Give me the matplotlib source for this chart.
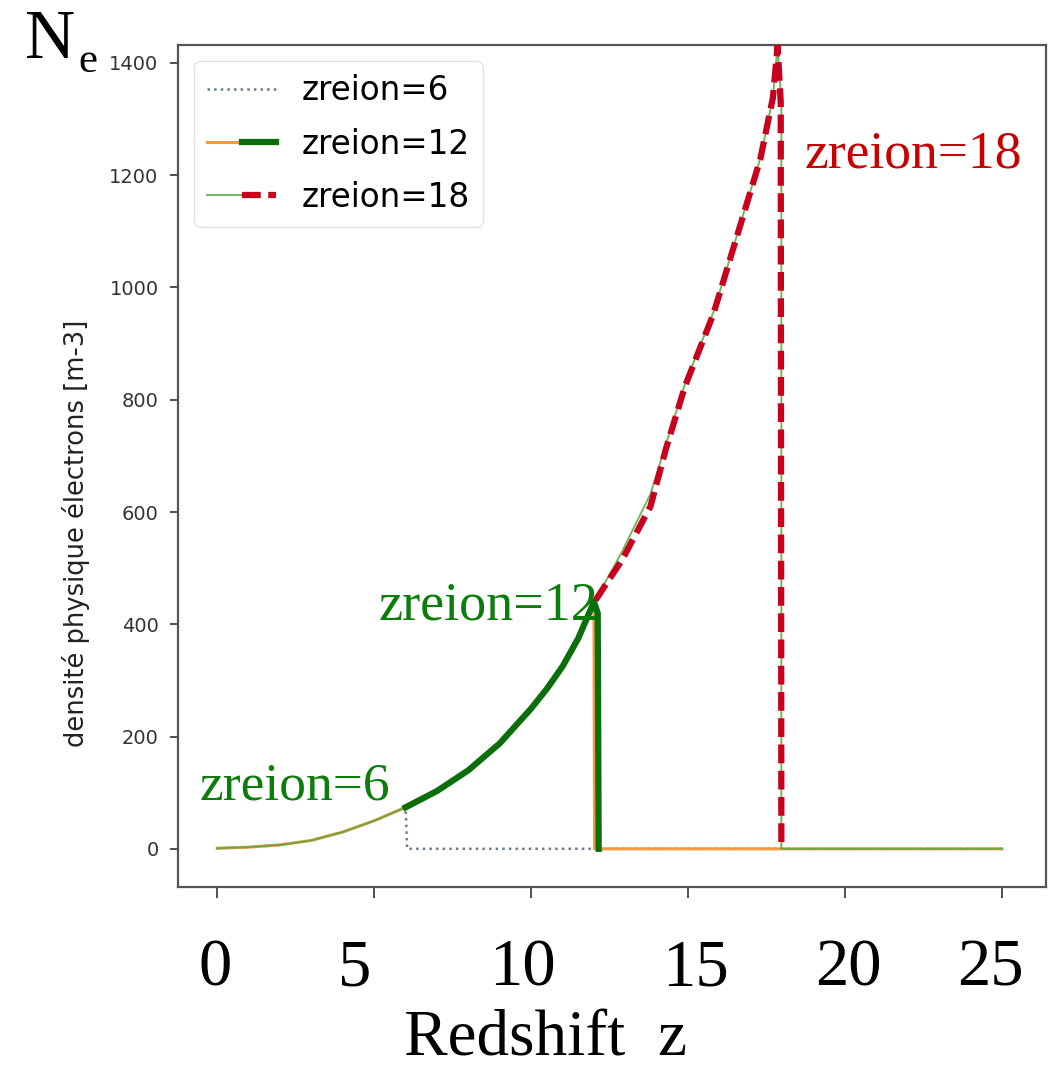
import matplotlib.pyplot as plt
from matplotlib.legend_handler import HandlerTuple

# electron density curve (shared low-z part)
z_low = [0, 1, 2, 3, 4, 5, 6, 7, 8, 9, 10, 10.5, 11, 11.5, 12]
ne_low = [1, 3, 7, 15, 30, 50, 74, 103, 140, 188, 250, 285, 325, 375, 440]

# high-z part (zreion=18 thick dashed)
z_high = [12.05, 12.9, 13.8, 14.3, 14.9, 15.8, 16.5, 17.3, 17.7, 17.85]
ne_high = [443, 515, 610, 714, 824, 952, 1081, 1229, 1338, 1430]
# thin companion line sits a little above between 12 and 14
ne_high_thin = [443, 530, 632, 722, 828, 955, 1083, 1230, 1338, 1430]

z_end = 25
xticks = [0, 5, 10, 15, 20, 25]
yticks = [0, 200, 400, 600, 800, 1000, 1200, 1400]
labels = ['zreion=6', 'zreion=12', 'zreion=18']

W, H = 1064, 1072
fig = plt.figure(figsize=(W / 100, H / 100), dpi=100)
ax = fig.add_axes([178 / W, 1 - 887 / H, (1046 - 178) / W, (887 - 45) / H])

# zreion=6 : dotted, drops at 6
z6 = z_low[:7] + [6.05, z_end]
n6 = ne_low[:7] + [0, 0]
# zreion=12 : thin orange + thick green between 6 and 12
z12 = z_low + [12.02, z_end]
n12 = ne_low + [0, 0]
z12b = z_low[6:] + [12.12, 12.15]
n12b = ne_low[6:] + [420, 0]
# zreion=18 : thin green + thick red dashed between 12 and 18
z18 = z_low[:-1] + z_high + [17.97, 17.97, z_end]
n18 = ne_low[:-1] + ne_high_thin + [1330, 0, 0]
z18b = z_high + [17.95, 17.97]
n18b = ne_high + [1330, 0]

l6, = ax.plot(z6, n6, ':', color='#6a7b8c', lw=1.8, zorder=2)
l12t, = ax.plot(z12, n12, '-', color='#f49a3c', lw=2.2, zorder=3)
l18t, = ax.plot(z18, n18, '-', color='#5aa845', lw=1.4, alpha=0.85, zorder=4)
l12, = ax.plot(z12b, n12b, '-', color='#0a6e0a', lw=4.5, zorder=5)
l18, = ax.plot(z18b, n18b, '--', color='#c8001e', lw=4.5, dashes=(3, 1.2), zorder=6)

ax.set_xlim(-1.25, 26.4)
ax.set_ylim(-68, 1432)
ax.set_xticks(xticks)
ax.set_xticklabels([])
ax.set_yticks(yticks)
ax.tick_params(axis='y', labelsize=14, length=6, width=1.2, colors='#333333', pad=8)
ax.tick_params(axis='x', length=8, width=1.2, colors='#333333')
for s in ax.spines.values():
    s.set_color('#555555')
    s.set_linewidth(1.6)

ax.set_ylabel('densité physique électrons [m-3]', fontsize=18.5, color='#222222')
ax.yaxis.set_label_coords(-0.101, 0.42)

leg = ax.legend([l6, (l12t, l12), (l18t, l18)], labels,
                handler_map={tuple: HandlerTuple(ndivide=None, pad=0)},
                loc='upper left', fontsize=23.5, handlelength=2.1,
                borderaxespad=0.5, labelspacing=0.62, handletextpad=0.8)
leg.get_frame().set_edgecolor('#dddddd')

serif = 'Liberation Serif'
# big overlaid labels
fig.text(25 / W, 1 - 58 / H, 'N', fontsize=50, family=serif, va='baseline')
fig.text(78 / W, 1 - 72 / H, 'e', fontsize=31, family=serif, va='baseline')
fig.text(805 / W, 1 - 168 / H, 'zreion=18', fontsize=38.5, family=serif,
         color='#c80000', va='baseline')
fig.text(378 / W, 1 - 620 / H, 'zreion=12', fontsize=39, family=serif,
         color='#0a7d0a', va='baseline')
fig.text(200 / W, 1 - 800 / H, 'zreion=6', fontsize=38.5, family=serif,
         color='#0a7d0a', va='baseline')

big_x = [215, 355, 522, 695, 848, 990]
for xv, t in zip(big_x, xticks):
    fig.text(xv / W, 1 - 985 / H, str(t), fontsize=48, family=serif,
             ha='center', va='baseline')
fig.text(545 / W, 1 - 1056 / H, 'Redshift  z', fontsize=47, family=serif,
         ha='center', va='baseline')

fig.savefig('out.png', dpi=100)
